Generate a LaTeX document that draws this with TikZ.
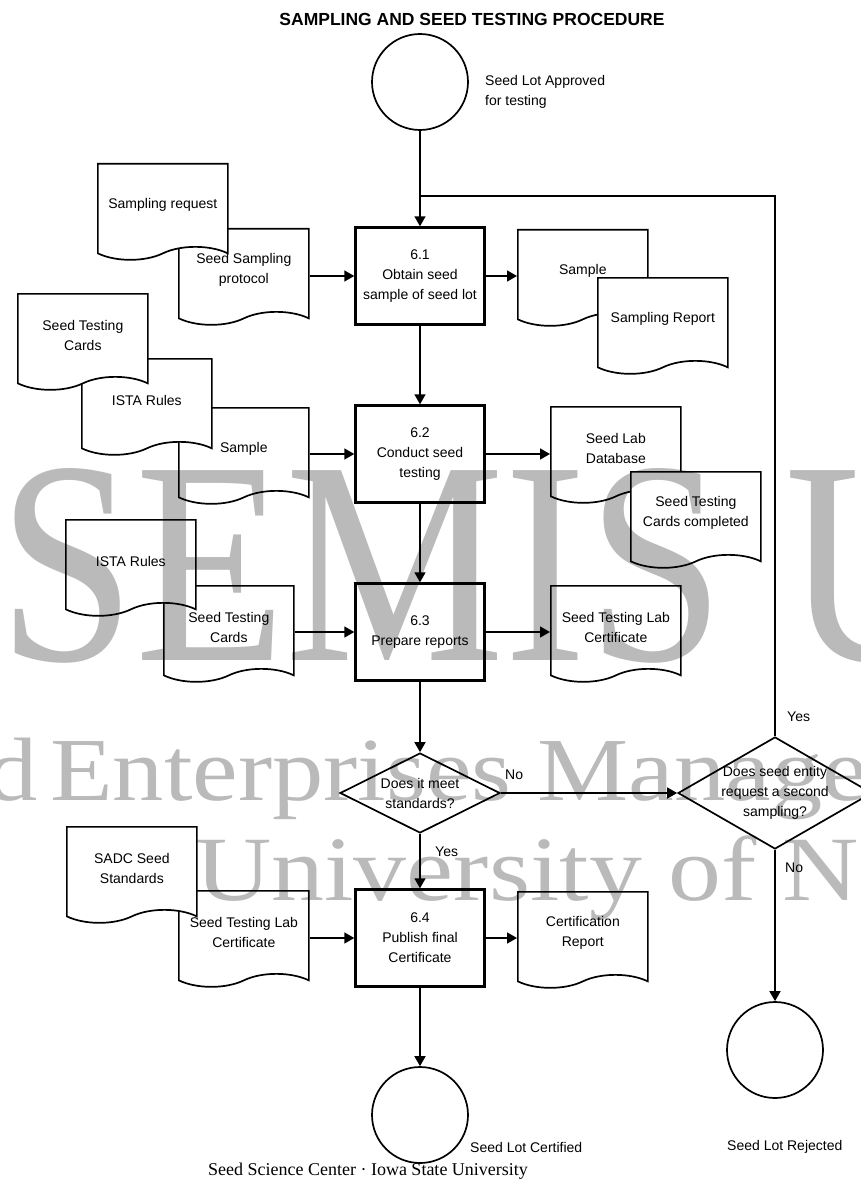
\documentclass[tikz,border=0pt]{standalone}
\usepackage{fontspec}
\setmainfont{Liberation Serif}
\setsansfont{Liberation Sans}
\usetikzlibrary{arrows.meta}
\usetikzlibrary{shapes.geometric}
\usetikzlibrary{shapes.symbols}

\tikzset{
	every node/.style={font=\sffamily\fontsize{14}{20}\selectfont},
	titletext/.style={font=\sffamily\bfseries\fontsize{17.5}{20}\selectfont, inner sep=0pt},
	procbox/.style={draw, rectangle, line width=2.4pt, minimum width=129pt, minimum height=97pt, align=center, fill=white},
	docbox/.style={draw, tape, tape bend top=none, tape bend bottom=in and out, tape bend height=13pt, line width=1.7pt, fill=white, minimum width=130pt, minimum height=96pt, align=center, anchor=north west},
	decision/.style={draw, diamond, line width=1.7pt, inner sep=0pt, fill=white},
	dectext/.style={align=center, inner sep=0pt},
	terminal/.style={draw, circle, line width=1.7pt, minimum size=96pt, inner sep=0pt},
	note/.style={anchor=west, align=left, inner sep=0pt},
	flow/.style={line width=1.6pt, -{Triangle[length=10pt,width=11pt]}},
	wmark/.style={font=\rmfamily, anchor=base west, inner sep=0pt},
}

\begin{document}
\begin{tikzpicture}[x=1pt,y=-1pt]
	\useasboundingbox (0,0) rectangle (861,1182);
	\clip (0,0) rectangle (861,1182);

	\node[titletext] (title) at (472,19) {SAMPLING AND SEED TESTING PROCEDURE};

	% start and end points
	\node[terminal] (approved) at (420,82) {};
	\node[note] (approvedlbl) at (485,92) {Seed Lot Approved\\for testing};
	\node[terminal] (certified) at (420,1115) {};
	\node[note] (certifiedlbl) at (470,1147) {Seed Lot Certified};
	\node[terminal] (rejected) at (775,1050) {};
	\node[note] (rejectedlbl) at (727,1147) {Seed Lot Rejected};

	% process steps
	\node[procbox] (s61) at (420,276) {6.1\\Obtain seed\\sample of seed lot};
	\node[procbox] (s62) at (420,454) {6.2\\Conduct seed\\testing};
	\node[procbox] (s63) at (420,632) {6.3\\Prepare reports};
	\node[procbox] (s64) at (420,938) {6.4\\Publish final\\Certificate};

	% documents, step 6.1
	\node[docbox] (protdoc) at (178,228) {Seed Sampling\\protocol};
	\node[docbox] (reqdoc) at (97,163) {Sampling request};
	\node[docbox] (sampdoc) at (517,229) {Sample};
	\node[docbox] (srepdoc) at (597,277) {Sampling Report};

	% documents, step 6.2
	\node[docbox] (samptwodoc) at (178,407) {Sample};
	\node[docbox] (istadoc) at (81,358) {ISTA Rules};
	\node[docbox] (cardsdoc) at (17,293) {Seed Testing\\Cards};
	\node[docbox] (dbdoc) at (550,406) {Seed Lab\\Database};
	\node[docbox] (cdonedoc) at (630,471) {Seed Testing\\Cards completed};

	% documents, step 6.3
	\node[docbox] (cardstwodoc) at (163,585) {Seed Testing\\Cards};
	\node[docbox] (istatwodoc) at (65,519) {ISTA Rules};
	\node[docbox] (certdoc) at (550,585) {Seed Testing Lab\\Certificate};

	% documents, step 6.4
	\node[docbox] (certtwodoc) at (178,890) {Seed Testing Lab\\Certificate};
	\node[docbox] (sadcdoc) at (66,826) {SADC Seed\\Standards};
	\node[docbox] (crepdoc) at (517,891) {Certification\\Report};

	% decisions
	\node[decision, minimum width=160pt, minimum height=80pt,
		label={[dectext]center:{Does it meet\\standards?}}] (meet) at (420,793) {};
	\node[decision, minimum width=194pt, minimum height=112pt,
		label={[dectext]center:{Does seed entity\\request a second\\sampling?}}] (again) at (775,793) {};

	\node[note] (nomeet) at (505,775) {No};
	\node[note] (yesmeet) at (435,852) {Yes};
	\node[note] (yesagain) at (787,717) {Yes};
	\node[note] (noagain) at (785,868) {No};

	% connectors
	\coordinate (loopin) at (420,196);
	\draw[flow] (approved) -- (s61);
	\draw[line width=1.6pt] (again.north) |- (loopin);
	\draw[flow] (protdoc.east |- s61) -- (s61);
	\draw[flow] (s61) -- (sampdoc.west |- s61);
	\draw[flow] (s61) -- (s62);
	\draw[flow] (samptwodoc.east |- s62) -- (s62);
	\draw[flow] (s62) -- (dbdoc.west |- s62);
	\draw[flow] (s62) -- (s63);
	\draw[flow] (cardstwodoc.east |- s63) -- (s63);
	\draw[flow] (s63) -- (certdoc.west |- s63);
	\draw[flow] (s63) -- (meet);
	\draw[flow] (meet) -- (again);
	\draw[flow] (meet) -- (s64);
	\draw[flow] (certtwodoc.east |- s64) -- (s64);
	\draw[flow] (s64) -- (crepdoc.west |- s64);
	\draw[flow] (s64) -- (certified);
	\draw[flow] (again) -- (rejected);

	\node[font=\rmfamily\fontsize{18}{20}\selectfont, inner sep=0pt] (footer) at (368,1171) {Seed Science Center · Iowa State University};

	% watermark
	\begin{scope}[opacity=0.27]
		\node[wmark, font=\rmfamily\fontsize{290}{290}\selectfont, xscale=0.85] (wmone) at (-2,660) {SEMIS UoN};
		\node[wmark, font=\rmfamily\fontsize{90}{90}\selectfont, anchor=base east, xscale=1.14] (wmtwoa) at (38,800) {Seed};
		\node[wmark, font=\rmfamily\fontsize{90}{90}\selectfont, xscale=1.14] (wmtwob) at (50,800) {Enterprises Management};
		\node[wmark, font=\rmfamily\fontsize{92}{92}\selectfont, xscale=1.15] (wmthree) at (195,900) {University of Nairobi};
	\end{scope}
\end{tikzpicture}
\end{document}
